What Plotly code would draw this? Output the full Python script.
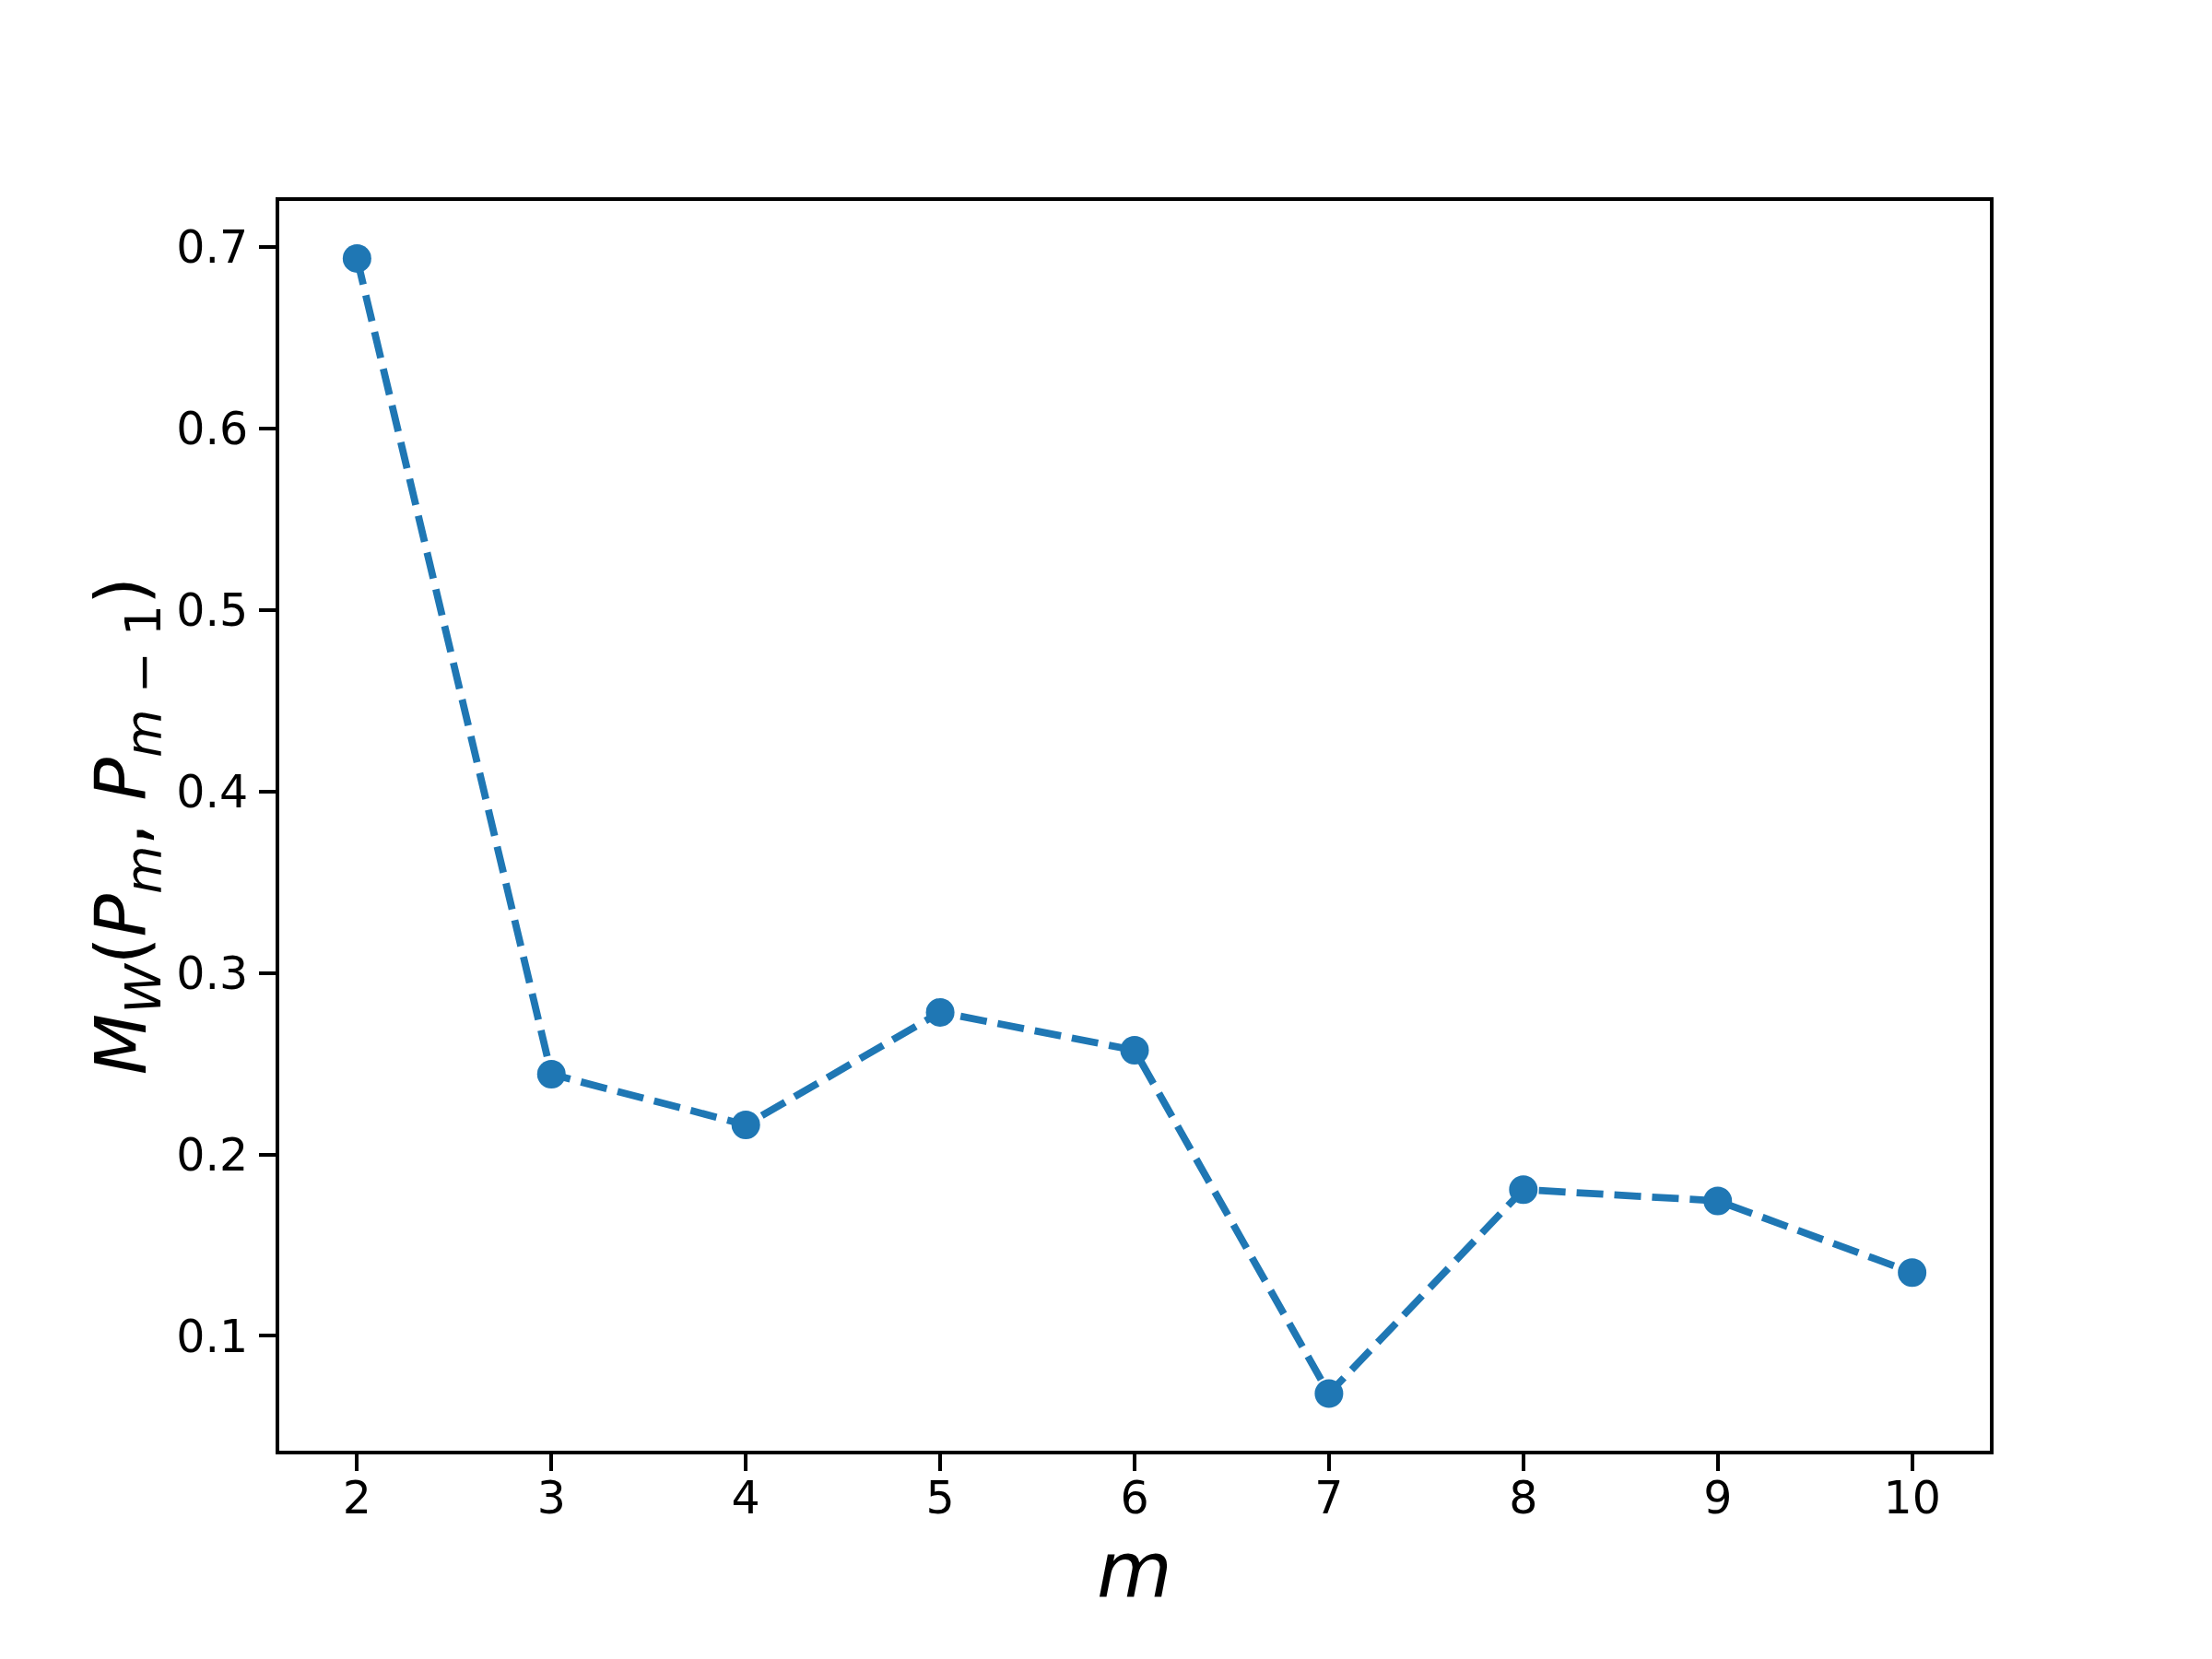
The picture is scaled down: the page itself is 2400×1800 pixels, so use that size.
import plotly.graph_objects as go

m_values = [2, 3, 4, 5, 6, 7, 8, 9, 10]
mw_values = [0.6938, 0.2442, 0.2163, 0.2783, 0.2574, 0.0682, 0.1806, 0.1744, 0.1349]
x_ticks = [2, 3, 4, 5, 6, 7, 8, 9, 10]
y_ticks = [0.1, 0.2, 0.3, 0.4, 0.5, 0.6, 0.7]
y_tick_labels = ["0.1", "0.2", "0.3", "0.4", "0.5", "0.6", "0.7"]

color = "#1f77b4"
font_family = "DejaVu Sans"

fig = go.Figure()
fig.add_trace(go.Scatter(
    x=m_values, y=mw_values, mode="lines+markers",
    line=dict(color=color, width=7.8, dash="29px,12px"),
    marker=dict(color=color, size=31, line=dict(width=0)),
    showlegend=False,
))

axis_common = dict(
    showgrid=False, zeroline=False, showline=True, linecolor="black", linewidth=4,
    mirror=True, ticks="outside", ticklen=18, tickwidth=4, tickcolor="black",
    tickfont=dict(family=font_family, size=49, color="black"),
)

fig.update_xaxes(
    range=[1.6, 10.4], tickmode="array", tickvals=x_ticks,
    ticktext=[str(v) for v in x_ticks], ticklabelstandoff=-13,
    title=dict(text="<i>m</i>", font=dict(family=font_family, size=84, color="black"), standoff=19),
    **axis_common,
)
fig.update_yaxes(
    range=[0.0367, 0.7255], tickmode="array", tickvals=y_ticks, ticktext=y_tick_labels,
    ticklabelstandoff=2,
    title=dict(
        text="<i>M</i><sub><i>W</i></sub>(<i>P</i><sub><i>m</i></sub>, <i>P</i><sub><i>m</i> \u2212 1</sub>)",
        font=dict(family=font_family, size=77, color="black"), standoff=8),
    **axis_common,
)

fig.update_layout(
    width=2400, height=1800, autosize=False,
    margin=dict(l=295, r=249, t=210, b=234, pad=0),
    paper_bgcolor="white", plot_bgcolor="white",
    font=dict(family=font_family, color="black"),
)

fig.write_html("out.html")
